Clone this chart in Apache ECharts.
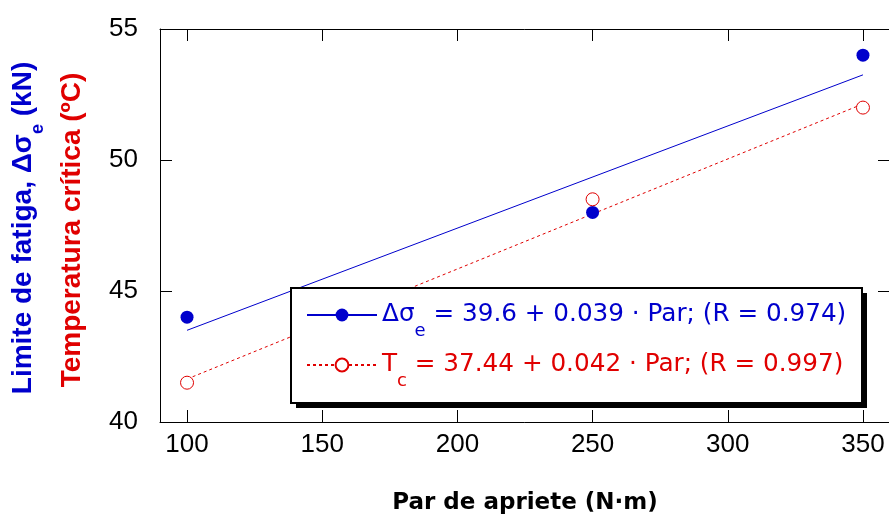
<!DOCTYPE html>
<html>
<head>
<meta charset="utf-8">
<script src="https://cdn.jsdelivr.net/npm/echarts@6/dist/echarts.min.js"></script>
<style>
  html, body { margin: 0; padding: 0; background: #fff; }
  #chart { width: 889px; height: 518px; }
</style>
</head>
<body>
<div id="chart"></div>
<script>
// measured points
const parApriete = [100, 250, 350]
const limiteFatiga = [44, 48, 54]
const tempCritica = [41.5, 48.5, 52]

// regression lines as printed in the legend: [intercept, slope]
const fitRange = [100, 350]
const fatigaFit = [39.6, 0.039]
const tempFit = [37.44, 0.042]

const xTicks = [100, 150, 200, 250, 300, 350]
const yTicks = [40, 45, 50, 55]

const legendSymbol = ["Δσ", "T"]
const legendSub = ["e", "c"]
const legendEq = [" = 39.6 + 0.039 · Par; (R = 0.974)", " = 37.44 + 0.042 · Par; (R = 0.997)"]

const BLUE = "#0000cc"
const RED = "#e00000"
const FONT = "Liberation Sans, Arial, sans-serif"
const WIDE = "DejaVu Sans, sans-serif"

const fitLine = (coef) => fitRange.map((x) => [x, coef[0] + coef[1] * x])
const points = (ys) => parApriete.map((x, i) => [x, ys[i]])

const chart = echarts.init(document.getElementById("chart"), null, { renderer: "canvas" })

const xBase = {
  type: "value",
  min: 90,
  max: 360,
  splitLine: { show: false },
  axisLine: { onZero: false, lineStyle: { color: "#000", width: 1 } },
  axisTick: { inside: true, length: 12, customValues: xTicks, lineStyle: { color: "#000" } },
}
const yBase = {
  type: "value",
  min: yTicks[0],
  max: yTicks[yTicks.length - 1],
  interval: 5,
  splitLine: { show: false },
  axisLine: { onZero: false, lineStyle: { color: "#000", width: 1 } },
  axisTick: { inside: true, length: 12, lineStyle: { color: "#000" } },
}

const option = {
  animation: false,
  backgroundColor: "#fff",
  textStyle: { fontFamily: FONT },
  grid: { left: 160, top: 29, width: 730, height: 393, outerBoundsMode: "none", containLabel: false },
  xAxis: [
    {
      ...xBase,
      position: "bottom",
      axisLabel: { customValues: xTicks, color: "#000", fontSize: 26, margin: 10, fontFamily: FONT },
      name: "Par de apriete (N·m)",
      nameLocation: "middle",
      nameGap: 70,
      nameTextStyle: { color: "#000", fontSize: 23, fontWeight: "bold", fontFamily: WIDE },
    },
    { ...xBase, position: "top", axisLabel: { show: false } },
  ],
  yAxis: [
    {
      ...yBase,
      position: "left",
      axisLabel: { color: "#000", fontSize: 26, margin: 22, fontFamily: FONT },
    },
    { ...yBase, position: "right", axisLabel: { show: false } },
  ],
  legend: {
    orient: "vertical",
    left: 306,
    top: 290,
    padding: 0,
    itemGap: 0,
    itemWidth: 70,
    itemHeight: 16,
    z: 10,
    data: ["fatigaFit", "tempFit"],
    formatter: (name) => {
      const i = name === "fatigaFit" ? 0 : 1
      const p = i === 0 ? "b" : "r"
      return `{${p}m|${legendSymbol[i]}}{${p}s|${legendSub[i]}}{${p}m|${legendEq[i]}}`
    },
    textStyle: {
      fontFamily: WIDE,
      fontSize: 24.7,
      rich: {
        bm: { color: BLUE, fontSize: 24.7, lineHeight: 30, fontFamily: WIDE },
        bs: { color: BLUE, fontSize: 18, lineHeight: 30, padding: [32, 0, 0, 0], fontFamily: WIDE },
        rm: { color: RED, fontSize: 24.7, lineHeight: 30, fontFamily: WIDE },
        rs: { color: RED, fontSize: 18, lineHeight: 30, padding: [32, 0, 0, 0], fontFamily: WIDE },
      },
    },
  },
  graphic: [
    // legend frame with hard drop shadow
    { type: "rect", z: 5, shape: { x: 296, y: 293, width: 571, height: 115 }, style: { fill: "#000" } },
    { type: "rect", z: 6, shape: { x: 291, y: 288, width: 571, height: 115 }, style: { fill: "#fff", stroke: "#000", lineWidth: 2 } },
    {
      type: "text",
      x: 23,
      y: 228,
      rotation: Math.PI / 2,
      style: {
        text: "{m|Limite de fatiga, Δσ}{s|e}{m| (kN)}",
        align: "center",
        verticalAlign: "middle",
        rich: {
          m: { fill: BLUE, fontSize: 28, fontWeight: "bold", lineHeight: 32, fontFamily: FONT },
          s: { fill: BLUE, fontSize: 18, fontWeight: "bold", lineHeight: 32, padding: [30, 0, 0, 0], fontFamily: FONT },
        },
      },
    },
    {
      type: "text",
      x: 72,
      y: 230,
      rotation: Math.PI / 2,
      style: {
        text: "Temperatura crítica (ºC)",
        align: "center",
        verticalAlign: "middle",
        fill: RED,
        font: "bold 28px " + FONT,
      },
    },
  ],
  series: [
    {
      name: "fatigaFit",
      type: "line",
      data: fitLine(fatigaFit),
      symbol: "circle",
      showSymbol: false,
      lineStyle: { color: BLUE, width: 1 },
      itemStyle: { color: BLUE },
      z: 2,
    },
    {
      name: "tempFit",
      type: "line",
      data: fitLine(tempFit),
      symbol: "emptyCircle",
      showSymbol: false,
      lineStyle: { color: RED, width: 1, type: [3, 3] },
      itemStyle: { color: RED },
      z: 2,
    },
    {
      name: "fatiga",
      type: "scatter",
      data: points(limiteFatiga),
      symbol: "circle",
      symbolSize: 13,
      itemStyle: { color: BLUE, opacity: 1 },
      z: 3,
    },
    {
      name: "temp",
      type: "scatter",
      data: points(tempCritica),
      symbol: "circle",
      symbolSize: 13,
      itemStyle: { color: "#fff", borderColor: RED, borderWidth: 1, opacity: 1 },
      z: 3,
    },
  ],
}

chart.setOption(option)
window.addEventListener("resize", () => chart.resize())
</script>
</body>
</html>
